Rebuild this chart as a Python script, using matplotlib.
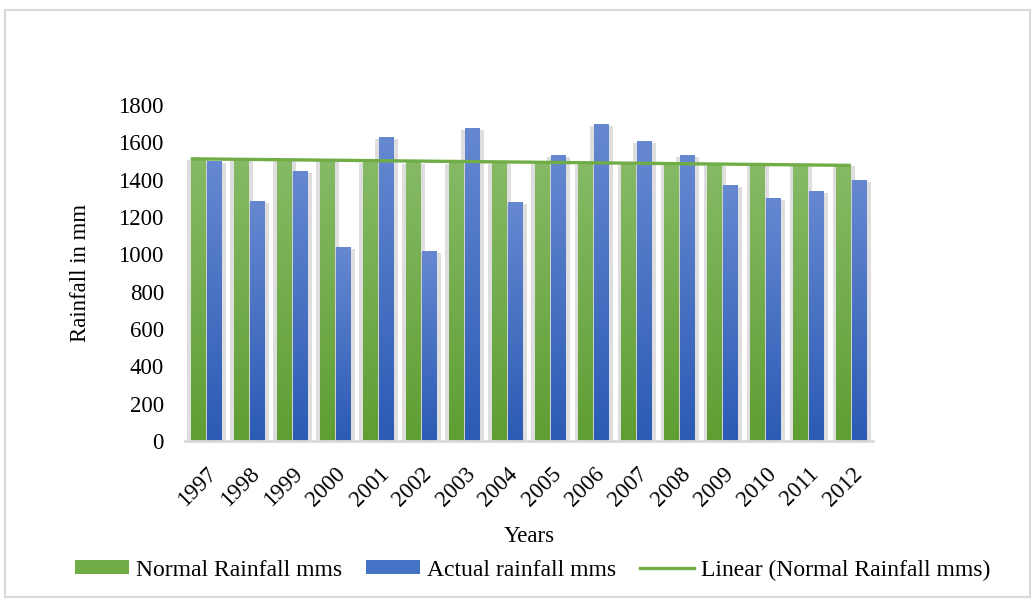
import numpy as np
import matplotlib
matplotlib.use("Agg")
import matplotlib.pyplot as plt
from matplotlib.colors import LinearSegmentedColormap
from matplotlib.patches import Rectangle, Patch
from matplotlib.lines import Line2D

# datos
years = ["1997", "1998", "1999", "2000", "2001", "2002", "2003", "2004",
         "2005", "2006", "2007", "2008", "2009", "2010", "2011", "2012"]
normal = [1512, 1512, 1510, 1510, 1498, 1494, 1494, 1492,
          1490, 1488, 1487, 1484, 1482, 1482, 1482, 1482]
actual = [1496, 1285, 1446, 1039, 1628, 1013, 1676, 1279,
          1532, 1694, 1602, 1532, 1371, 1301, 1339, 1398]

plt.rcParams['font.family'] = ['Liberation Serif', 'DejaVu Serif']
fs = 16.5

fig = plt.figure(figsize=(10.32, 6.0), dpi=100)
ax = fig.add_axes([0.179, 0.265, 0.667, 0.56])

x = np.arange(len(years))
ancho = 0.34
verde = LinearSegmentedColormap.from_list("verde", ["#5f9e33", "#86ba66"])
azul = LinearSegmentedColormap.from_list("azul", ["#2b5bb4", "#6688d1"])
grad = np.linspace(0, 1, 256).reshape(-1, 1)

def barras(pos, vals, cmap):
    bars = ax.bar(pos, vals, ancho, color="none", zorder=3)
    for b in bars:
        x0, w, h = b.get_x(), b.get_width(), b.get_height()
        # sombra
        ax.add_patch(Rectangle((x0 - 0.08, 0), w + 0.18, h - 8,
                               color="#c8c8c8", alpha=0.6, lw=0, zorder=1))
        ax.imshow(grad, extent=[x0, x0 + w, 0, h], origin="lower",
                  aspect="auto", cmap=cmap, zorder=2)
    return bars

barras(x - 0.19, normal, verde)
barras(x + 0.18, actual, azul)

# tendencia lineal de la lluvia normal
m, c = np.polyfit(x, normal, 1)
xt = np.array([x[0] - 0.36, x[-1] - 0.02])
ax.plot(xt, m * xt + c, color="#70ad47", lw=2.4, zorder=4,
        solid_capstyle="butt")

ax.set_xlim(-0.5, len(years) - 0.5)
ax.set_ylim(0, 1800)
ax.set_yticks(range(0, 1801, 200))
ax.set_xticks(x)
ax.set_xticklabels(years, rotation=45, ha="right", rotation_mode="anchor")
ax.tick_params(axis="both", length=0, labelsize=fs)
ax.tick_params(axis="y", pad=15)
ax.tick_params(axis="x", pad=16)
for s in ["top", "right", "left"]:
    ax.spines[s].set_visible(False)
ax.spines["bottom"].set_color("#d9d9d9")
ax.spines["bottom"].set_linewidth(2)
ax.set_facecolor("none")

ax.set_xlabel("Years", fontsize=fs, labelpad=11)
ax.set_ylabel("Rainfall in mm", fontsize=fs, labelpad=20)

handles = [Patch(facecolor="#70ad47"), Patch(facecolor="#4472c4"),
           Line2D([0], [0], color="#70ad47", lw=2.4)]
labels = ["Normal Rainfall mms", "Actual rainfall mms",
          "Linear (Normal Rainfall mms)"]
fig.legend(handles, labels, loc="center", bbox_to_anchor=(0.516, 0.05),
           ncol=3, frameon=False, fontsize=17, handlelength=2.3,
           handleheight=0.52, handletextpad=0.3, columnspacing=1.0)

fig.add_artist(Rectangle((0.005, 0.005), 0.993, 0.978, transform=fig.transFigure,
                         fill=False, edgecolor="#d9d9d9", lw=1.5))

fig.savefig("out.png", dpi=100)
